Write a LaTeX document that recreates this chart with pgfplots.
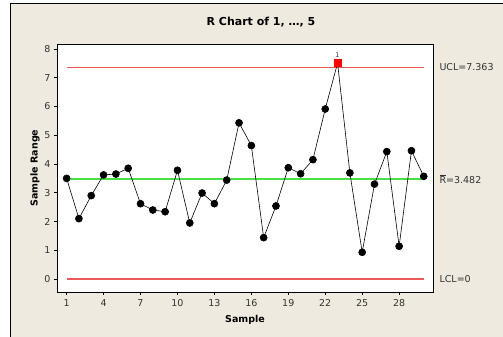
\documentclass[border=0pt]{standalone}
\usepackage{pgfplots}
\pgfplotsset{compat=1.18}
\usepackage{fontspec}
\setmainfont{DejaVu Sans}
\definecolor{panel}{RGB}{238,234,224}
\definecolor{ctlred}{RGB}{235,90,90}
\definecolor{ctlgreen}{RGB}{70,225,70}
\begin{document}
\begin{tikzpicture}[x=1pt,y=1pt]
\useasboundingbox (0,0) rectangle (503,-337);
\fill[white] (-3,3) rectangle (506,-340);
\fill[panel] (10,-3) rectangle (506,-340);
\draw[black,line width=0.8pt] (10,-340) -- (10,-3) -- (506,-3);
\begin{axis}[
  at={(57pt,-292pt)}, anchor=south west,
  scale only axis, width=376pt, height=248pt,
  xmin=0.22, xmax=30.75, ymin=-0.45, ymax=8.17,
  axis background/.style={fill=white},
  axis line style={black, line width=0.7pt},
  xtick={1,4,...,28}, ytick={0,1,...,8},
  tick align=outside, tick pos=left,
  major tick length=3pt,
  tick style={black, line width=0.6pt},
  ticklabel style={font=\fontsize{9.5}{10}\selectfont, text=black!80},
  xticklabel style={yshift=-1pt},
  /pgf/number format/assume math mode=true,
  xlabel={\bfseries Sample}, ylabel={\bfseries Sample Range},
  label style={font=\fontsize{9.5}{10}\selectfont},
  xlabel style={yshift=-2pt},
  ylabel style={yshift=-2pt},
  title={\bfseries R Chart of 1, \ldots, 5},
  title style={font=\fontsize{11}{12}\selectfont, at={(0.5,1)}, anchor=base, yshift=12pt, xshift=16pt},
  clip=false,
]
\addplot[ctlred, line width=1.3pt] coordinates {(1,7.363) (30,7.363)};
\addplot[ctlred, line width=1.3pt] coordinates {(1,0) (30,0)};
\addplot[ctlgreen, line width=1.3pt] coordinates {(1,3.482) (30,3.482)};
\addplot[black, line width=0.6pt, mark=*, mark size=3.5pt, mark options={fill=black}] coordinates {
(1,3.50) (2,2.10) (3,2.90) (4,3.62) (5,3.65) (6,3.85) (7,2.62) (8,2.40) (9,2.34) (10,3.78)
(11,1.95) (12,2.99) (13,2.62) (14,3.44) (15,5.43) (16,4.64) (17,1.44) (18,2.54) (19,3.87) (20,3.66)
(21,4.15) (22,5.91) (23,7.51) (24,3.69) (25,0.93) (26,3.30) (27,4.43) (28,1.14) (29,4.46) (30,3.57)
};
\addplot[only marks, mark=square*, mark size=3.4pt, color=red, mark options={fill=red, draw=red}] coordinates {(23,7.51)}
  node[above, font=\fontsize{6.5}{7}\selectfont, text=black!80, yshift=2pt] {1};
\node[anchor=west, font=\fontsize{9.5}{10}\selectfont, text=black!80] at (axis cs:30.75,7.363) {\hspace{3pt}UCL=7.363};
\node[anchor=west, font=\fontsize{9.5}{10}\selectfont, text=black!80] at (axis cs:30.75,3.482) {\hspace{3pt}$\overline{\mbox{R}}$=3.482};
\node[anchor=west, font=\fontsize{9.5}{10}\selectfont, text=black!80] at (axis cs:30.75,0) {\hspace{3pt}LCL=0};
\end{axis}
\end{tikzpicture}
\end{document}
